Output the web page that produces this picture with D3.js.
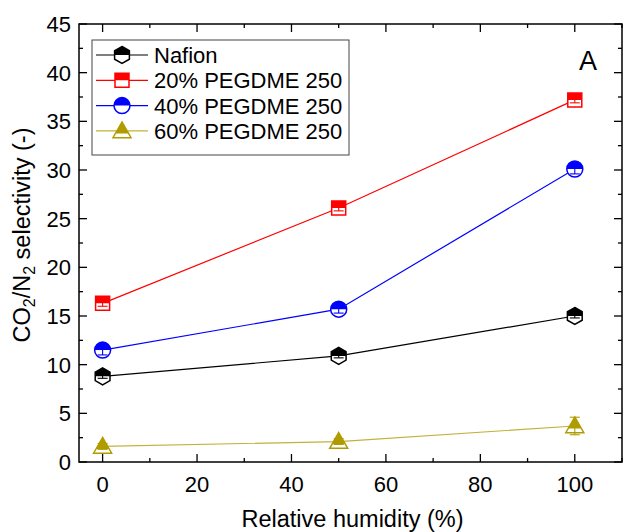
<!DOCTYPE html>
<html><head><meta charset="utf-8">
<script src="https://cdn.jsdelivr.net/npm/d3@7"></script>
<style>body{margin:0;background:#fff}svg{display:block}text{font-family:"Liberation Sans",Arial,sans-serif}</style>
</head><body><svg id="c" width="623" height="532"></svg>
<script>
const humidity = [0, 50, 100];
const nafion = [8.8, 10.9, 15.0];
const peg20 = [16.3, 26.1, 37.2];
const peg40 = [11.5, 15.7, 30.1];
const peg60 = [1.6, 2.1, 3.7];
const err20 = [0.3, 0.3, 0.3];
const err40 = [0.5, 0.4, 0.5];
const err60 = [0.3, 0.3, 0.9];
const errNafion = [0.2, 0.2, 0.2];
const seriesNames = ["Nafion", "20% PEGDME 250", "40% PEGDME 250", "60% PEGDME 250"];
const xTicks = [0, 20, 40, 60, 80, 100];
const yTicks = [0, 5, 10, 15, 20, 25, 30, 35, 40, 45];

const series = [
  {name: seriesNames[0], vals: nafion, err: errNafion, color: "#000000", line: "#000000", shape: "hex"},
  {name: seriesNames[1], vals: peg20, err: err20, color: "#ff0000", line: "#ff0000", shape: "square"},
  {name: seriesNames[2], vals: peg40, err: err40, color: "#0000ff", line: "#0000ff", shape: "circle"},
  {name: seriesNames[3], vals: peg60, err: err60, color: "#b09c00", line: "#c2b13a", shape: "tri"}
];

const FS = 22, TS = 23.5;
const svg = d3.select("#c");
const L = 79, R = 622, T = 24, B = 462;
const x = d3.scaleLinear().domain([-5, 110]).range([L, R]);
const y = d3.scaleLinear().domain([0, 45]).range([B, T]);

svg.append("rect").attr("x", L).attr("y", T).attr("width", R - L).attr("height", B - T)
  .attr("fill", "none").attr("stroke", "#000").attr("stroke-width", 1.5);

const xMinor = d3.range(0, 111, 10);
const yMinor = d3.range(0, 45.1, 2.5);
const g = svg.append("g").attr("stroke", "#000").attr("stroke-width", 1.3);
xMinor.forEach(v => {
  const len = (v % 20 === 0) ? 8 : 4;
  g.append("line").attr("x1", x(v)).attr("x2", x(v)).attr("y1", B).attr("y2", B - len);
  g.append("line").attr("x1", x(v)).attr("x2", x(v)).attr("y1", T).attr("y2", T + len);
});
yMinor.forEach(v => {
  const len = (v % 5 === 0) ? 8 : 4;
  g.append("line").attr("y1", y(v)).attr("y2", y(v)).attr("x1", L).attr("x2", L + len);
  g.append("line").attr("y1", y(v)).attr("y2", y(v)).attr("x1", R).attr("x2", R - len);
});

svg.append("g").selectAll("text").data(xTicks).join("text")
  .attr("x", d => x(d)).attr("y", B + 30).attr("text-anchor", "middle")
  .attr("font-size", FS).text(d => d);
svg.append("g").selectAll("text").data(yTicks).join("text")
  .attr("x", L - 8).attr("y", d => y(d) + 8).attr("text-anchor", "end")
  .attr("font-size", FS).text(d => d);

svg.append("text").attr("x", (L + R) / 2 + 2).attr("y", 527).attr("text-anchor", "middle")
  .attr("font-size", TS).text("Relative humidity (%)");
const yt = svg.append("text").attr("transform", `translate(30,${(T + B) / 2 - 8}) rotate(-90)`)
  .attr("text-anchor", "middle").attr("font-size", TS);
yt.append("tspan").text("CO");
yt.append("tspan").attr("font-size", 16).attr("dy", 5).text("2");
yt.append("tspan").attr("dy", -5).text("/N");
yt.append("tspan").attr("font-size", 16).attr("dy", 5).text("2");
yt.append("tspan").attr("dy", -5).text(" selectivity (-)");

svg.append("text").attr("x", 588).attr("y", 70).attr("text-anchor", "middle")
  .attr("font-size", 27).text("A");

function marker(parent, shape, color, cx, cy) {
  const m = parent.append("g").attr("transform", `translate(${cx},${cy})`);
  const id = "clip" + Math.random().toString(36).slice(2);
  let path;
  if (shape === "hex") {
    const r = 8.5;
    const p = [[0,-r],[r*0.87,-r/2],[r*0.87,r/2],[0,r],[-r*0.87,r/2],[-r*0.87,-r/2]];
    path = "M" + p.map(q => q.join(",")).join("L") + "Z";
  } else if (shape === "square") {
    const s = 7;
    path = `M${-s},${-s}L${s},${-s}L${s},${s}L${-s},${s}Z`;
  } else if (shape === "circle") {
    const r = 8;
    path = `M${-r},0A${r},${r} 0 1,1 ${r},0A${r},${r} 0 1,1 ${-r},0Z`;
  } else {
    const s = 9;
    path = `M0,${-s}L${s},${s*0.75}L${-s},${s*0.75}Z`;
  }
  const half = shape === "tri" ? 2.5 : 0;
  m.append("clipPath").attr("id", id).append("rect").attr("x", -20).attr("y", -20).attr("width", 40).attr("height", 20 + half);
  m.append("path").attr("d", path).attr("fill", "#fff");
  m.append("path").attr("d", path).attr("fill", color).attr("clip-path", `url(#${id})`);
  m.append("path").attr("d", path).attr("fill", "none").attr("stroke", color).attr("stroke-width", 1.5);
  return m;
}

const lineGen = d3.line().x((d, i) => x(humidity[i])).y(d => y(d));
series.forEach(s => {
  svg.append("path").attr("d", lineGen(s.vals)).attr("fill", "none")
    .attr("stroke", s.line).attr("stroke-width", 1.2);
});
series.forEach(s => {
  s.vals.forEach((v, i) => {
    const cx = x(humidity[i]), cy = y(v);
    marker(svg, s.shape, s.color, cx, cy);
    const e = svg.append("g").attr("stroke", s.color).attr("stroke-width", 1.1);
    const top = y(v + s.err[i]), bot = y(v - s.err[i]);
    e.append("line").attr("x1", cx).attr("x2", cx).attr("y1", top).attr("y2", bot);
    e.append("line").attr("x1", cx - 5).attr("x2", cx + 5).attr("y1", top).attr("y2", top);
    e.append("line").attr("x1", cx - 5).attr("x2", cx + 5).attr("y1", bot).attr("y2", bot);
  });
});

const lg = svg.append("g");
lg.append("rect").attr("x", 92).attr("y", 40).attr("width", 257).attr("height", 115)
  .attr("fill", "#fff").attr("stroke", "#444").attr("stroke-width", 1);
series.forEach((s, i) => {
  const yy = 55 + i * 25.3;
  lg.append("line").attr("x1", 96).attr("x2", 148).attr("y1", yy).attr("y2", yy)
    .attr("stroke", s.line).attr("stroke-width", 1.2);
  marker(lg, s.shape, s.color, 122, yy);
  lg.append("text").attr("x", 154).attr("y", yy + 8).attr("font-size", FS).text(s.name);
});
</script></body></html>
